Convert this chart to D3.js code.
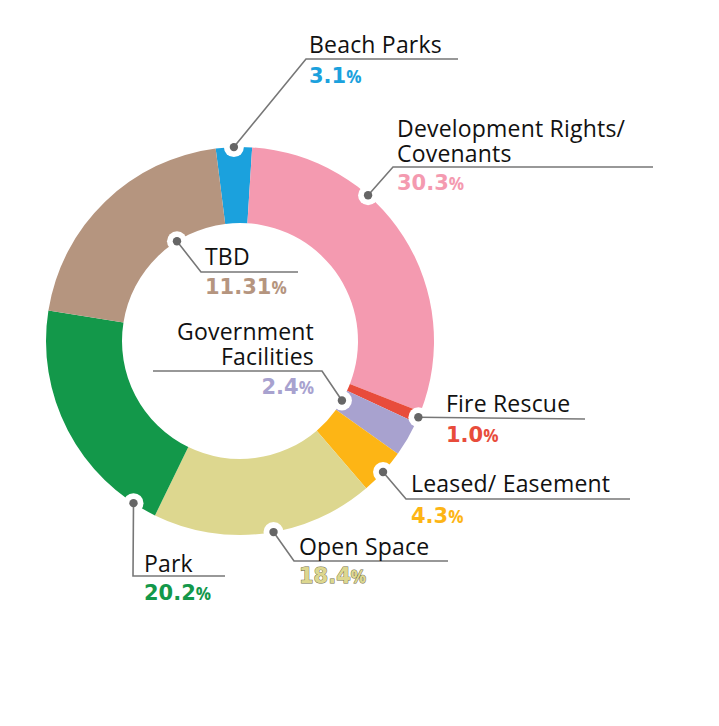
<!DOCTYPE html>
<html>
<head>
<meta charset="utf-8">
<script src="https://cdn.jsdelivr.net/npm/d3@7"></script>
<style>
  html, body { margin: 0; padding: 0; background: #fff; }
  svg { display: block; }
</style>
</head>
<body>
<svg id="chart" width="719" height="726"></svg>
<script>
// ---- data ----
const categories = ["Beach Parks", "Development Rights/ Covenants", "Fire Rescue", "Government Facilities", "Leased/ Easement", "Open Space", "Park", "TBD"];
const labelLines = [["Beach Parks"], ["Development Rights/", "Covenants"], ["Fire Rescue"], ["Government", "Facilities"], ["Leased/ Easement"], ["Open Space"], ["Park"], ["TBD"]];
const percentLabels = ["3.1", "30.3", "1.0", "2.4", "4.3", "18.4", "20.2", "11.31"];
// slice shares as drawn in the picture
const sliceShares = [3.0, 29.95, 1.0, 2.95, 3.85, 18.5, 20.3, 20.5];
const colors = ["#1ba1dd", "#f49ab0", "#e84c3b", "#a8a2cf", "#fdb515", "#ddd78f", "#13984a", "#b5957f"];

// ---- layout (positions / styles) ----
const cx = 240, cy = 341, R = 194, r0 = 118;
const layout = [
  { frac: 0.5,  ring: "outer", path: [[306, 59], [458, 59]], x: 309, anchor: "start", ys: [53], py: 83 },
  { frac: 0.35, ring: "outer", path: [[393, 167], [653, 167]], x: 397, anchor: "start", ys: [137, 162], py: 190 },
  { frac: 0.5,  ring: "outer", path: [[585, 419]], x: 446, anchor: "start", ys: [412], py: 442 },
  { frac: 0.5,  ring: "inner", path: [[322, 371], [153, 371]], x: 314, anchor: "end", ys: [340, 365], py: 394 },
  { frac: 0.5,  ring: "outer", path: [[406, 499], [630, 499]], x: 411, anchor: "start", ys: [492], py: 523 },
  { frac: 0.46, ring: "outer", path: [[294, 561], [448, 561]], x: 299, anchor: "start", ys: [555], py: 583, outline: "#6f6c48" },
  { frac: 0.10, ring: "outer", path: [[133, 576], [225, 576]], x: 144, anchor: "start", ys: [572], py: 600 },
  { frac: 0.66, ring: "inner", path: [[201, 272], [298, 272]], x: 205, anchor: "start", ys: [265], py: 294 }
];

const svg = d3.select("#chart");
const g = svg.append("g").attr("transform", `translate(${cx},${cy})`);

const pie = d3.pie().sort(null).value(d => d)
  .startAngle(-7.2 * Math.PI / 180)
  .endAngle(-7.2 * Math.PI / 180 + 2 * Math.PI);
const arcs = pie(sliceShares);
const arc = d3.arc().innerRadius(r0).outerRadius(R);

g.selectAll("path.slice").data(arcs).join("path")
  .attr("class", "slice")
  .attr("d", arc)
  .attr("fill", (d, i) => colors[i]);

// anchor points
const anchors = arcs.map((a, i) => {
  const L = layout[i];
  const ang = a.startAngle + (a.endAngle - a.startAngle) * L.frac;
  const rad = L.ring === "outer" ? R : r0;
  return [cx + rad * Math.sin(ang), cy - rad * Math.cos(ang)];
});

const root = svg.append("g");
// white halos
root.selectAll("circle.halo").data(anchors).join("circle")
  .attr("class", "halo").attr("cx", d => d[0]).attr("cy", d => d[1])
  .attr("r", 10).attr("fill", "#fff");

// leader lines
const line = d3.line();
root.selectAll("path.leader").data(anchors).join("path")
  .attr("class", "leader")
  .attr("d", (d, i) => line([d, ...layout[i].path]))
  .attr("fill", "none").attr("stroke", "#777").attr("stroke-width", 1.6);

// dots
root.selectAll("circle.dot").data(anchors).join("circle")
  .attr("class", "dot").attr("cx", d => d[0]).attr("cy", d => d[1])
  .attr("r", 4.2).attr("fill", "#666");

// labels
categories.forEach((c, i) => {
  const L = layout[i];
  labelLines[i].forEach((t, j) => {
    root.append("text")
      .attr("x", L.x).attr("y", L.ys[j])
      .attr("text-anchor", L.anchor)
      .attr("font-family", "'Open Sans', sans-serif")
      .attr("font-size", 23)
      .attr("letter-spacing", 0.2)
      .attr("fill", "#111")
      .text(t);
  });
  const pt = root.append("text")
    .attr("x", L.x).attr("y", L.py)
    .attr("text-anchor", L.anchor)
    .attr("font-family", "'DejaVu Sans', sans-serif")
    .attr("font-weight", "bold")
    .attr("font-size", 21)
    .attr("fill", colors[i]);
  if (L.outline) pt.attr("stroke", L.outline).attr("stroke-width", 0.9).attr("paint-order", "stroke");
  pt.append("tspan").text(percentLabels[i]);
  pt.append("tspan").attr("font-size", 17).attr("font-family", "'Open Sans', sans-serif").attr("font-weight", 700).text("%");
});
</script>
</body>
</html>
